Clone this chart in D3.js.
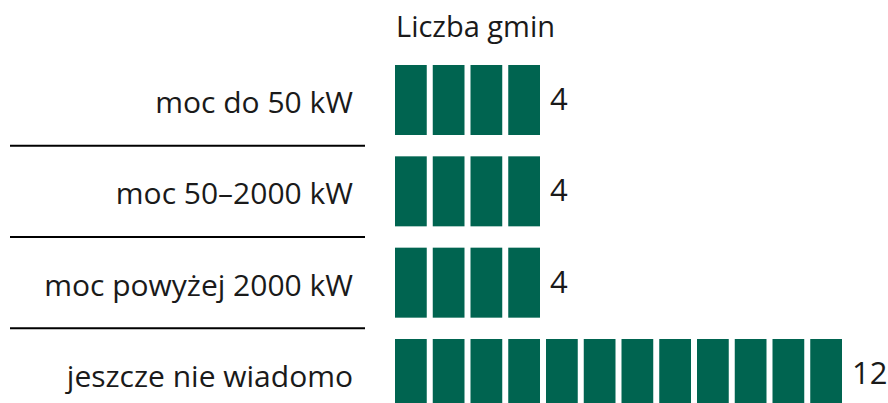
<!DOCTYPE html>
<html>
<head>
<meta charset="utf-8">
<script src="https://cdn.jsdelivr.net/npm/d3@7"></script>
<style>
  body { margin: 0; background: #fff; }
  text { font-family: "Open Sans", sans-serif; fill: #1a1a1a; }
</style>
</head>
<body>
<div id="chart"></div>
<script>
// dane
const categories = ["moc do 50 kW", "moc 50–2000 kW", "moc powyżej 2000 kW", "jeszcze nie wiadomo"];
const values = [4, 4, 4, 12];
const title = "Liczba gmin";

const width = 888;
const height = 403;
const green = "#006450";

const svg = d3.select("#chart").append("svg")
    .attr("width", width)
    .attr("height", height);

const y = d3.scaleBand()
    .domain(categories)
    .range([54.33, 419.67])
    .paddingInner(0.2336)
    .paddingOuter(0.1168);

const x = d3.scaleLinear()
    .domain([0, 12])
    .range([395, 848]);

const unitW = x(1) - x(0) - 6;

// tytuł
svg.append("text")
    .attr("x", 396)
    .attr("y", 37)
    .attr("font-size", 29)
    .text(title);

// linie oddzielające
svg.append("g")
  .selectAll("line")
  .data(categories.slice(0, -1))
  .enter().append("line")
    .attr("x1", 10)
    .attr("x2", 365)
    .attr("y1", d => y(d) + y.bandwidth() + y.step() * y.paddingInner() / 2)
    .attr("y2", d => y(d) + y.bandwidth() + y.step() * y.paddingInner() / 2)
    .attr("stroke", "#000")
    .attr("stroke-width", 2);

// etykiety
svg.append("g")
    .attr("text-anchor", "end")
    .attr("font-size", 30)
  .selectAll("text")
  .data(categories)
  .enter().append("text")
    .attr("x", 353)
    .attr("y", d => y(d) + y.bandwidth() / 2 + 13)
    .text(d => d);

// kwadraty
const rows = svg.append("g")
  .selectAll("g")
  .data(categories)
  .enter().append("g")
    .attr("transform", d => "translate(0," + y(d) + ")");

rows.selectAll("rect")
  .data((d, i) => d3.range(values[i]))
  .enter().append("rect")
    .attr("x", d => x(d))
    .attr("y", 0)
    .attr("width", unitW)
    .attr("height", y.bandwidth())
    .attr("fill", green);

rows.append("text")
    .attr("x", (d, i) => x(values[i]) - 6 + 10)
    .attr("y", y.bandwidth() / 2 + 10)
    .attr("font-size", 31)
    .text((d, i) => values[i]);
</script>
</body>
</html>
